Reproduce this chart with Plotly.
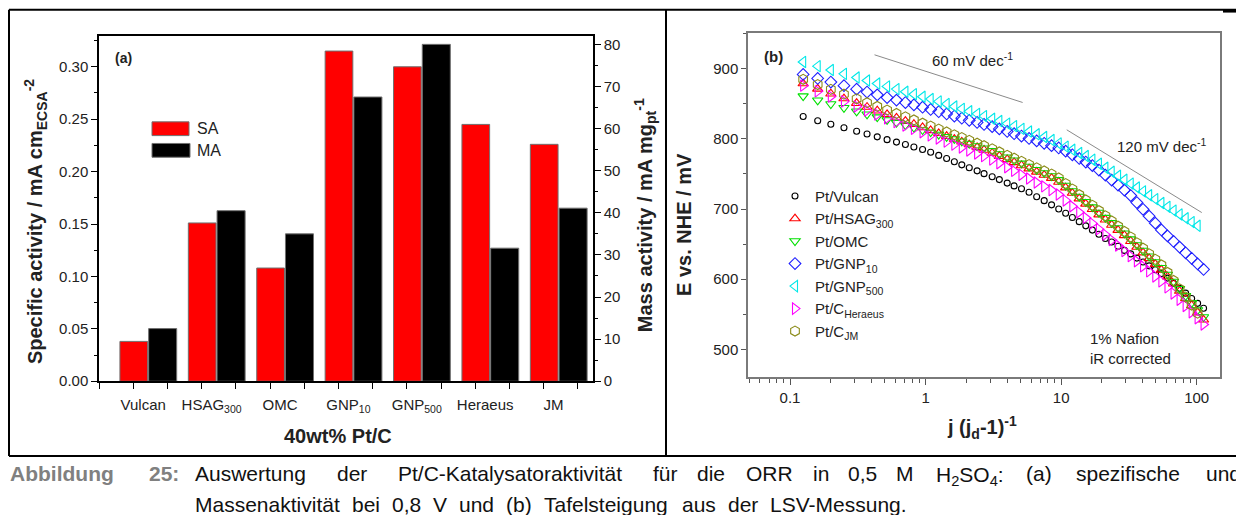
import plotly.graph_objects as go

W, H = 1236, 515


def fx(p):
    return p / W


def fy(p):
    return 1 - p / H


# ---------------- data: panel (a) ----------------
CATEGORIES = ["Vulcan", "HSAG<sub>300</sub>", "OMC", "GNP<sub>10</sub>",
              "GNP<sub>500</sub>", "Heraeus", "JM"]
SA = [0.038, 0.151, 0.108, 0.315, 0.300, 0.245, 0.226]      # mA cm^-2
MA = [12.5, 40.5, 35.0, 67.5, 80.0, 31.6, 41.1]              # mA mg^-1
SA_TICKS = [0.00, 0.05, 0.10, 0.15, 0.20, 0.25, 0.30]
MA_TICKS = [0, 10, 20, 30, 40, 50, 60, 70, 80]

# ---------------- data: panel (b) ----------------
J_GRID = [0.125, 0.16, 0.2, 0.25, 0.31, 0.37, 0.44, 0.52, 0.61, 0.71, 0.82, 0.95,
          1.09, 1.25, 1.43, 1.63, 1.85, 2.1, 2.4, 2.7, 3.1, 3.5, 4.0, 4.5, 5.1, 5.8,
          6.6, 7.5, 8.5, 9.6, 10.8, 12.1, 13.6, 15.2, 17.0, 19.0, 21.2, 23.6, 26.3,
          29.3, 32.6, 36.2, 40.2, 44.6, 49.5, 54.9, 60.9, 67.5, 74.8, 82.9, 91.8,
          101.6, 112.4]

E_VULCAN = [832, 826, 821, 816, 811, 807, 803, 799, 795.5, 792, 788.5, 785, 781,
            776.5, 772, 767.5, 763, 759, 754.5, 750.5, 746, 742, 737, 733, 729, 724,
            717.5, 712, 706, 700, 694, 688, 682, 676, 670, 664, 658, 653, 647, 641,
            636, 630, 624.5, 619, 613.5, 608, 601.5, 594, 587, 580, 572.5, 565.5, 558.5]
E_HSAG = [879, 871.4, 864.5, 857.6, 851.0, 845.5, 840.2, 835.0, 830.1, 825.4, 821.0,
          816.4, 812.2, 808.0, 803.9, 799.8, 795.9, 792.0, 787.9, 784.3, 779.9, 775.5,
          770.8, 766.6, 762.2, 757.6, 753.0, 748.5, 744.1, 738.6, 730.6, 722.8, 714.8,
          707.3, 699.7, 692.0, 684.7, 677.3, 670.0, 662.4, 654.1, 645.8, 637.8, 629.7,
          621.4, 613.3, 603.6, 593.4, 583.0, 572.6, 562.4, 552.2, 542.0]
E_OMC = [861, 855.1, 849.8, 844.5, 839.4, 835.2, 831.1, 827.1, 823.3, 819.7, 816.3,
         812.8, 809.6, 806.3, 803.1, 800.0, 796.7, 793.4, 789.9, 786.8, 782.9, 778.5,
         773.8, 769.6, 765.2, 760.6, 756.0, 751.5, 747.1, 741.6, 733.6, 725.8, 717.8,
         710.3, 702.7, 695.0, 687.7, 680.3, 673.0, 665.4, 657.1, 648.8, 640.8, 632.7,
         624.4, 616.3, 606.7, 596.6, 586.4, 576.1, 566.1, 556.0, 546.0]
E_GNP10 = [892, 886.3, 881.1, 876.0, 871.0, 866.9, 862.9, 859.0, 855.4, 851.9, 848.6,
           845.2, 842.0, 838.8, 835.6, 832.6, 829.6, 826.6, 823.5, 820.7, 817.5, 814.3,
           810.7, 807.5, 804.1, 800.7, 797.2, 793.8, 790.4, 787.1, 782.6, 777.4, 772.1,
           767.1, 762.1, 755.6, 748.4, 741.3, 734.2, 727.0, 719.2, 709.3, 699.6, 689.8,
           679.9, 670.2, 661.7, 653.8, 645.7, 637.6, 629.7, 621.7, 613.8]
E_GNP500 = [909.8, 903.8, 898.3, 892.8, 887.6, 883.3, 879.0, 874.9, 871.1, 867.3, 863.8,
            860.2, 856.9, 853.5, 849.9, 846.3, 842.9, 839.4, 835.8, 832.6, 828.8, 825.5,
            821.9, 818.3, 814.4, 810.6, 806.6, 802.8, 798.4, 793.6, 789.0, 784.5, 779.9,
            775.6, 770.4, 764.5, 758.8, 753.2, 747.5, 741.8, 736.3, 730.7, 725.2, 719.7,
            714.1, 708.6, 703.1, 697.8, 692.3, 686.8, 681.4, 676.1]
E_HERAEUS = [876, 867.9, 860.6, 853.3, 846.3, 840.5, 834.8, 829.3, 824.1, 819.1, 814.4,
             809.6, 805.1, 800.6, 796.2, 791.9, 787.8, 783.6, 779.3, 775.5, 770.6, 765.3,
             759.6, 754.5, 749.0, 743.6, 737.9, 732.4, 727.1, 720.8, 712.3, 704.0, 695.5,
             687.5, 679.5, 671.3, 663.5, 655.7, 647.9, 640.1, 632.8, 625.5, 618.4, 611.2,
             603.9, 596.8, 588.3, 579.6, 570.6, 561.7, 552.9, 544.2, 535.4]
E_JM = [885, 877.6, 870.7, 863.8, 857.2, 851.7, 846.4, 841.2, 836.3, 831.6, 827.1, 822.5,
        818.3, 814.0, 809.9, 805.9, 801.9, 798.0, 793.9, 790.3, 785.9, 781.5, 776.7,
        772.5, 768.0, 763.5, 758.8, 754.3, 749.8, 744.3, 736.3, 728.5, 720.5, 712.9,
        705.4, 697.7, 690.3, 683.0, 675.6, 668.0, 660.0, 651.9, 644.1, 636.2, 628.2,
        620.3, 609.6, 598.1, 586.3, 574.5, 563.0, 551.5]

SERIES_NAMES = ["Pt/Vulcan", "Pt/HSAG<sub>300</sub>", "Pt/OMC", "Pt/GNP<sub>10</sub>",
                "Pt/GNP<sub>500</sub>", "Pt/C<sub>Heraeus</sub>", "Pt/C<sub>JM</sub>"]
SERIES_E = [E_VULCAN, E_HSAG, E_OMC, E_GNP10, E_GNP500, E_HERAEUS, E_JM]

# Tafel guide lines (60 and 120 mV/dec)
GUIDE60_J = [0.42, 5.2]
GUIDE60_E = [920, 852]
GUIDE120_J = [11.0, 109.0]
GUIDE120_E = [813, 695]

X_LOG_TICKS = [0.1, 1, 10, 100]
E_TICKS = [500, 600, 700, 800, 900]

# ---------------- caption text ----------------
CAPTION_LABEL = ["Abbildung", "25:"]
CAPTION_LINE1 = ["Auswertung", "der", "Pt/C-Katalysatoraktivität", "für", "die", "ORR",
                 "in", "0,5", "M", "H<sub>2</sub>SO<sub>4</sub>:", "(a)", "spezifische",
                 "und"]
CAPTION_LINE2 = ["Massenaktivität", "bei", "0,8", "V", "und", "(b)", "Tafelsteigung",
                 "aus", "der", "LSV-Messung."]

# ---------------- styles ----------------
STYLES = [
    dict(symbol="circle-open", color="#000000", size=6),
    dict(symbol="triangle-up-open", color="#ff0000", size=9),
    dict(symbol="triangle-down-open", color="#00e000", size=9),
    dict(symbol="diamond-open", color="#2020ff", size=9),
    dict(symbol="triangle-left-open", color="#00e8e8", size=10),
    dict(symbol="triangle-right-open", color="#ff00ff", size=10),
    dict(symbol="hexagon-open", color="#8c8c1a", size=10),
]

FONT = "Liberation Sans, Arial, sans-serif"
TXT = "#222222"

fig = go.Figure()

pos = list(range(len(CATEGORIES)))
fig.add_trace(go.Bar(x=pos, y=SA, xaxis="x", yaxis="y", offset=-0.41, width=0.405,
                     marker=dict(color="#ff0000", line=dict(color="#707070", width=1)),
                     name="SA", showlegend=False))
fig.add_trace(go.Bar(x=pos, y=MA, xaxis="x", yaxis="y2", offset=0.01, width=0.41,
                     marker=dict(color="#000000", line=dict(color="#707070", width=1)),
                     name="MA", showlegend=False))

for name, ev, st in zip(SERIES_NAMES, SERIES_E, STYLES):
    fig.add_trace(go.Scatter(
        x=J_GRID[:len(ev)], y=ev, mode="markers", name=name,
        xaxis="x2", yaxis="y3",
        marker=dict(symbol=st["symbol"], size=st["size"], color=st["color"],
                    line=dict(color=st["color"], width=1.1)),
    ))

for gj, ge in ((GUIDE60_J, GUIDE60_E), (GUIDE120_J, GUIDE120_E)):
    fig.add_trace(go.Scatter(x=gj, y=ge, mode="lines", xaxis="x2", yaxis="y3",
                             line=dict(color="#8a8a8a", width=1), showlegend=False,
                             hoverinfo="skip"))

axis_common = dict(showgrid=False, zeroline=False, showline=True,
                   tickfont=dict(family=FONT, size=15, color=TXT))

fig.update_layout(
    width=W, height=H,
    margin=dict(l=0, r=0, t=0, b=0),
    paper_bgcolor="white", plot_bgcolor="white",
    barmode="overlay",
    font=dict(family=FONT, color=TXT),
    xaxis=dict(**axis_common, domain=[fx(99), fx(593)], range=[-0.716, 6.506],
               anchor="y", linecolor="black", linewidth=1.5, mirror=True,
               tickmode="array", tickvals=[p - 0.07 for p in pos], ticktext=CATEGORIES,
               ticks="", ticklabelstandoff=9,
               minor=dict(ticks="outside", tick0=-0.215, dtick=0.5, ticklen=6,
                          tickwidth=1.3, tickcolor="black")),
    yaxis=dict(**axis_common, domain=[fy(387), fy(36)], range=[0, 0.329],
               anchor="x", linecolor="black", linewidth=1.5,
               tickmode="array", tickvals=SA_TICKS, ticktext=[f"{v:.2f}" for v in SA_TICKS],
               ticks="outside", ticklen=6, tickwidth=1.3, tickcolor="black",
               minor=dict(ticks="outside", tick0=0, dtick=0.025, ticklen=3,
                          tickwidth=1.3, tickcolor="black")),
    yaxis2=dict(**axis_common, overlaying="y", side="right", anchor="x",
                range=[0, 81.9], linecolor="black", linewidth=1.5,
                tickmode="array", tickvals=MA_TICKS, ticktext=[str(v) for v in MA_TICKS],
                ticks="outside", ticklen=6, tickwidth=1.3, tickcolor="black",
                minor=dict(ticks="outside", tick0=0, dtick=5, ticklen=3,
                           tickwidth=1.3, tickcolor="black")),
    xaxis2=dict(**axis_common, type="log", domain=[fx(748), fx(1220)],
                range=[-1.31, 2.172], anchor="y3", linecolor="#7a7a7a", linewidth=1.5,
                mirror=True, tickmode="array", tickvals=X_LOG_TICKS,
                ticktext=["0.1", "1", "10", "100"],
                ticks="outside", ticklen=6, tickwidth=1.2, tickcolor="#555555",
                minor=dict(ticks="outside", dtick="D1", ticklen=4, tickwidth=1,
                           tickcolor="#555555")),
    yaxis3=dict(**axis_common, domain=[fy(383), fy(33)], range=[460, 950.5],
                anchor="x2", linecolor="#7a7a7a", linewidth=1.5, mirror=True,
                tickmode="array", tickvals=E_TICKS, ticktext=[str(v) for v in E_TICKS],
                ticks="outside", ticklen=5, tickwidth=1.2, tickcolor="#555555",
                minor=dict(ticks="outside", tick0=0, dtick=50, ticklen=3, tickwidth=1,
                           tickcolor="#555555")),
    legend=dict(x=fx(775), y=fy(182), xanchor="left", yanchor="top",
                bgcolor="rgba(0,0,0,0)", font=dict(family=FONT, size=15, color=TXT),
                tracegroupgap=0, itemsizing="trace"),
)

# ---------------- frame lines ----------------
shapes = []
line_k = dict(color="black", width=2)
shapes.append(dict(type="line", xref="paper", yref="paper", x0=fx(9), x1=fx(1236),
                   y0=fy(9), y1=fy(9), line=line_k))
shapes.append(dict(type="line", xref="paper", yref="paper", x0=fx(1223), x1=fx(1236),
                   y0=fy(10), y1=fy(10), line=dict(color="black", width=3.5)))
shapes.append(dict(type="line", xref="paper", yref="paper", x0=fx(9), x1=fx(9),
                   y0=fy(9), y1=fy(463), line=line_k))
shapes.append(dict(type="line", xref="paper", yref="paper", x0=fx(666), x1=fx(666),
                   y0=fy(9), y1=fy(463), line=line_k))
shapes.append(dict(type="line", xref="paper", yref="paper", x0=fx(9), x1=fx(1236),
                   y0=fy(463), y1=fy(463), line=line_k))
# SA / MA legend keys
shapes.append(dict(type="rect", xref="paper", yref="paper", x0=fx(152), x1=fx(189),
                   y0=fy(137), y1=fy(123), fillcolor="#ff0000",
                   line=dict(color="#707070", width=1)))
shapes.append(dict(type="rect", xref="paper", yref="paper", x0=fx(152), x1=fx(190),
                   y0=fy(159), y1=fy(145), fillcolor="#000000",
                   line=dict(color="#707070", width=1)))
fig.update_layout(shapes=shapes)

ann = []


def text(x, y, s, size=15, bold=False, xanchor="left", yanchor="middle", angle=0,
         color=TXT):
    if bold:
        s = f"<b>{s}</b>"
    ann.append(dict(x=fx(x), y=fy(y), xref="paper", yref="paper", text=s,
                    showarrow=False, xanchor=xanchor, yanchor=yanchor, textangle=angle,
                    font=dict(family=FONT, size=size, color=color)))


text(113, 58, "(a)", size=14, bold=True)
text(195, 130, "SA", size=16)
text(195, 152, "MA", size=16)
text(35, 225, "Specific activity / mA cm<sub>ECSA</sub><sup>-2</sup>", size=20, bold=True,
     xanchor="center", angle=-90)
text(645, 218, "Mass activity / mA mg<sub>pt</sub><sup>-1</sup>", size=20, bold=True,
     xanchor="center", angle=-90)
text(338, 443, "40wt% Pt/C", size=20, bold=True, xanchor="center")

text(762, 56, "(b)", size=15, bold=True)
text(930, 60, "60 mV dec<sup>-1</sup>", size=15)
text(1115, 147, "120 mV dec<sup>-1</sup>", size=15)
text(1088, 344, "1% Nafion", size=15)
text(1088, 364, "iR corrected", size=15)
text(684, 228, "E vs. NHE / mV", size=20, bold=True, xanchor="center", angle=-90)
text(982, 434, "j (j<sub>d</sub>-1)<sup>-1</sup>", size=20, bold=True, xanchor="center")

# caption (justified first line, hanging indent)
CAP_SIZE = 21
text(62, 481, CAPTION_LABEL[0], size=CAP_SIZE, bold=True, color="#808080",
     xanchor="center")
text(164, 481, CAPTION_LABEL[1], size=CAP_SIZE, bold=True, color="#808080",
     xanchor="center")
line1_x = [193, 352, 510, 665, 711, 769, 821, 863, 905, 970, 1039, 1128, 1223]
for i, (w, xc) in enumerate(zip(CAPTION_LINE1, line1_x)):
    text(xc, 481 + (2 if "<sub>" in w else 0), w, size=CAP_SIZE,
         xanchor="left" if i == 0 else "center", color="#111111")
line2_x = [193, 350, 390, 431, 457, 504, 542, 680, 726, 768]
for w, xl in zip(CAPTION_LINE2, line2_x):
    text(xl, 512, w, size=CAP_SIZE, xanchor="left", color="#111111")

fig.update_layout(annotations=ann)

fig.write_html("out.html")
